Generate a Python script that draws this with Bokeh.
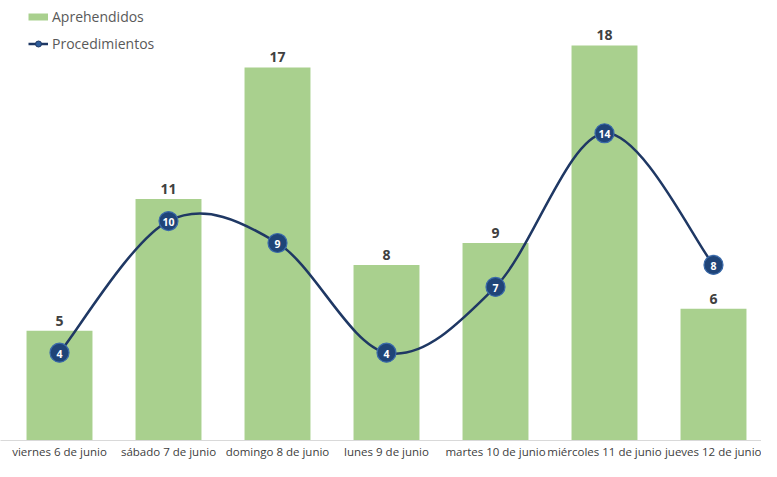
from bokeh.plotting import figure
from bokeh.models import ColumnDataSource, FixedTicker, Range1d, Legend, LegendItem
from bokeh.core.properties import value
from bokeh.embed import file_html
from bokeh.resources import INLINE

categories = ["viernes 6 de junio", "sábado 7 de junio", "domingo 8 de junio",
              "lunes 9 de junio", "martes 10 de junio", "miércoles 11 de junio",
              "jueves 12 de junio"]
aprehendidos = [5, 11, 17, 8, 9, 18, 6]
procedimientos = [4, 10, 9, 4, 7, 14, 8]

FONT = "Open Sans"
BAR = "#A9D08E"
NAVY = "#1F3864"

n = len(categories)
xs = list(range(n))

p = figure(width=761, height=461, output_backend="svg", toolbar_location=None,
           x_range=Range1d(-0.5413, 6.4404), y_range=Range1d(0, 20.05),
           min_border_left=0, min_border_right=0, min_border_top=0,
           min_border_bottom=20, y_axis_location=None)
p.outline_line_color = None
p.xgrid.visible = False
p.ygrid.visible = False
p.background_fill_color = "white"
p.border_fill_color = "white"

bar_src = ColumnDataSource(dict(x=xs, top=aprehendidos, lab=[str(v) for v in aprehendidos]))
bars = p.vbar(x="x", top="top", width=0.605, source=bar_src, fill_color=BAR, line_color=None)
p.text(x="x", y="top", text="lab", source=bar_src, text_align="center",
       text_baseline="bottom", y_offset=-5, text_font=value(FONT),
       text_font_size="14px", text_color="#404040", text_font_style="bold")

# smoothed line (Catmull-Rom -> cubic Bezier, as in spreadsheet "smoothed line")
x0, y0, x1, y1, cx0, cy0, cx1, cy1 = [], [], [], [], [], [], [], []
for i in range(n - 1):
    pm = i - 1 if i > 0 else i
    pp = i + 2 if i + 2 < n else i + 1
    x0.append(xs[i]); y0.append(procedimientos[i])
    x1.append(xs[i + 1]); y1.append(procedimientos[i + 1])
    cx0.append(xs[i] + (xs[i + 1] - xs[pm]) / 6)
    cy0.append(procedimientos[i] + (procedimientos[i + 1] - procedimientos[pm]) / 6)
    cx1.append(xs[i + 1] - (xs[pp] - xs[i]) / 6)
    cy1.append(procedimientos[i + 1] - (procedimientos[pp] - procedimientos[i]) / 6)
p.bezier(x0=x0, y0=y0, x1=x1, y1=y1, cx0=cx0, cy0=cy0, cx1=cx1, cy1=cy1,
         line_color=NAVY, line_width=2.5)

line_src = ColumnDataSource(dict(x=xs, y=procedimientos, lab=[str(v) for v in procedimientos]))
p.scatter(x="x", y="y", source=line_src, size=19, fill_color="#1F4478",
          line_color="#3A6AAA", line_width=1.2)
p.text(x="x", y="y", text="lab", source=line_src, text_align="center",
       text_baseline="middle", text_font=value(FONT), text_font_size="10.5px",
       text_color="white", text_font_style="bold", y_offset=1)

# legend proxies (placed outside the visible range)
lg_bar = p.line(x=[-10, -9], y=[-10, -10], line_color=BAR, line_width=7)
lg_line = p.line(x=[-10, -9], y=[-10, -10], line_color=NAVY, line_width=2.5)
lg_dot = p.scatter(x=[-10], y=[-10], size=6, fill_color="#2E5C9A", line_color=NAVY)

legend = Legend(items=[LegendItem(label="Aprehendidos", renderers=[lg_bar]),
                       LegendItem(label="Procedimientos", renderers=[lg_line, lg_dot])],
                location=(28, 387), orientation="vertical",
                glyph_width=20, glyph_height=15, label_height=20, spacing=7,
                padding=0, margin=0, label_standoff=4,
                label_text_font=FONT, label_text_font_size="14px",
                label_text_color="#595959", border_line_color=None,
                background_fill_alpha=0)
p.add_layout(legend)

ax = p.xaxis[0]
ax.ticker = FixedTicker(ticks=xs)
ax.major_label_overrides = {i: c for i, c in enumerate(categories)}
ax.major_tick_line_color = None
ax.minor_tick_line_color = None
ax.major_tick_out = 0
ax.major_tick_in = 0
ax.axis_line_color = "#D9D9D9"
ax.axis_line_width = 1
ax.major_label_standoff = 3
ax.major_label_text_font = FONT
ax.major_label_text_font_size = "11.5px"
ax.major_label_text_color = "#404040"

open("out.html", "w").write(file_html(p, INLINE))
